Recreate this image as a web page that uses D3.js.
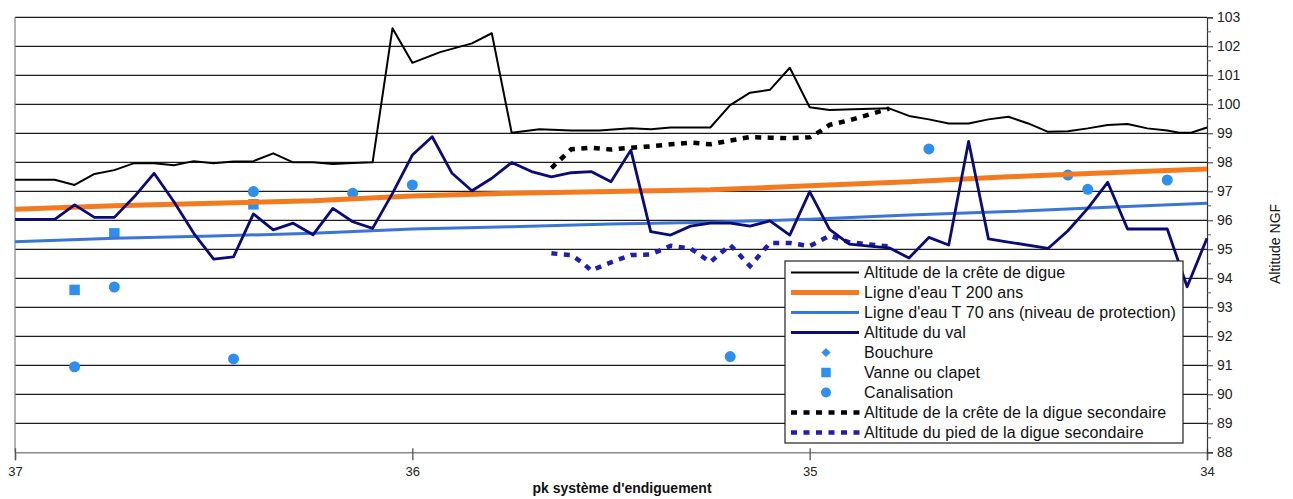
<!DOCTYPE html>
<html><head><meta charset="utf-8">
<script src="https://cdn.jsdelivr.net/npm/d3@7"></script>
<style>body{margin:0;background:#fff}svg{display:block}text{font-family:"Liberation Sans",Arial,sans-serif}</style>
</head><body><svg id="c" width="1293" height="499"></svg>
<script>
// ---- data ----
const xTicks = [37, 36, 35, 34];
const yTicks = [88,89,90,91,92,93,94,95,96,97,98,99,100,101,102,103];

const crestPk  = [37.0,36.9,36.85,36.8,36.75,36.7,36.65,36.6,36.55,36.5,36.45,36.4,36.35,36.3,36.25,36.2,36.15,36.1,36.05,36.0,35.93,35.85,35.8,35.75,35.68,35.6,35.53,35.45,35.4,35.35,35.25,35.2,35.15,35.1,35.05,35.0,34.95,34.89,34.8,34.75,34.7,34.65,34.6,34.55,34.5,34.45,34.4,34.35,34.3,34.25,34.2,34.15,34.1,34.07,34.04,34.0];
const crestVal = [97.4,97.4,97.22,97.6,97.73,97.97,97.97,97.9,98.04,97.97,98.03,98.04,98.31,98.0,98.0,97.94,97.98,98.0,102.62,101.43,101.8,102.1,102.45,99.02,99.14,99.1,99.1,99.17,99.14,99.2,99.2,99.97,100.4,100.5,101.26,99.9,99.8,99.83,99.86,99.6,99.48,99.34,99.34,99.48,99.57,99.34,99.05,99.07,99.17,99.29,99.32,99.17,99.1,99.02,99.02,99.2];

const t200Pk  = [37.0,36.75,36.5,36.25,36.0,35.75,35.5,35.25,35.0,34.75,34.5,34.25,34.0];
const t200Val = [96.38,96.5,96.59,96.67,96.84,96.93,96.99,97.05,97.19,97.33,97.5,97.64,97.77];

const t70Pk  = [37.0,36.75,36.5,36.25,36.0,35.75,35.5,35.25,35.0,34.75,34.5,34.25,34.0];
const t70Val = [95.26,95.38,95.46,95.55,95.7,95.78,95.87,95.93,96.04,96.18,96.3,96.45,96.59];

const valPk  = [37.0,36.9,36.85,36.8,36.75,36.7,36.65,36.6,36.55,36.5,36.45,36.4,36.35,36.3,36.25,36.2,36.15,36.1,36.05,36.0,35.95,35.9,35.85,35.8,35.75,35.7,35.65,35.6,35.55,35.5,35.45,35.4,35.35,35.3,35.25,35.2,35.15,35.1,35.05,35.0,34.95,34.9,34.85,34.8,34.75,34.7,34.65,34.6,34.55,34.5,34.4,34.35,34.3,34.25,34.2,34.15,34.1,34.05,34.0];
const valVal = [96.03,96.03,96.53,96.1,96.1,96.81,97.62,96.64,95.55,94.66,94.74,96.22,95.67,95.9,95.5,96.41,95.95,95.72,96.93,98.25,98.88,97.62,97.02,97.45,97.99,97.68,97.5,97.64,97.68,97.33,98.42,95.61,95.49,95.8,95.9,95.9,95.8,95.98,95.49,96.99,95.69,95.18,95.11,95.05,94.7,95.41,95.15,98.72,95.36,95.25,95.03,95.64,96.41,97.31,95.7,95.7,95.7,93.71,95.38];

const crest2Pk  = [35.65,35.6,35.55,35.5,35.45,35.4,35.35,35.3,35.25,35.2,35.15,35.1,35.05,35.0,34.97,34.95,34.9,34.85,34.8];
const crest2Val = [97.8,98.45,98.5,98.44,98.5,98.55,98.62,98.68,98.62,98.75,98.87,98.85,98.83,98.86,99.1,99.29,99.45,99.65,99.85];

const footPk  = [35.65,35.6,35.57,35.55,35.5,35.45,35.4,35.35,35.3,35.25,35.2,35.15,35.1,35.05,35.0,34.95,34.9,34.85,34.8];
const footVal = [94.86,94.8,94.52,94.27,94.55,94.8,94.82,95.12,95.03,94.56,95.15,94.42,95.22,95.22,95.11,95.47,95.24,95.17,95.1];

const vannePk  = [36.85,36.75,36.4];
const vanneVal = [93.6,95.55,96.55];

const canalPk  = [36.85,36.75,36.45,36.4,36.15,36.0,35.2,34.7,34.35,34.3,34.1];
const canalVal = [90.95,93.7,91.22,96.99,96.93,97.22,91.3,98.46,97.56,97.07,97.39];

const legendLabels = ["Altitude de la crête de digue","Ligne d'eau T 200 ans","Ligne d'eau T 70 ans (niveau de protection)","Altitude du val","Bouchure","Vanne ou clapet","Canalisation","Altitude de la crête de la digue secondaire","Altitude du pied de la digue secondaire"];

// ---- drawing ----
const svg = d3.select("#c");
const x = d3.scaleLinear().domain([37, 34]).range([15, 1207]);
const y = d3.scaleLinear().domain([88, 103]).range([452.3, 17.3]);

const C = {crest:"#000000", t200:"#F47A20", t70:"#3B76D6", val:"#0B0B78", sym:"#2F8FEF", foot:"#1E1EB0"};
const zip = (a, b) => a.map((d, i) => [d, b[i]]);
const line = d3.line().x(d => x(d[0])).y(d => y(d[1]));

// gridlines
svg.append("g").selectAll("line").data(yTicks.filter(v => v > 88)).join("line")
  .attr("x1", 15).attr("x2", 1207).attr("y1", d => y(d)).attr("y2", d => y(d))
  .attr("stroke", "#1c1c1c").attr("stroke-width", 1.3);

// left border & bottom axis
svg.append("line").attr("x1", 15).attr("x2", 15).attr("y1", y(103)).attr("y2", y(88))
  .attr("stroke", "#8a8a8a").attr("stroke-width", 1.3);

const xAxis = svg.append("g").attr("transform", `translate(0,${y(88)})`)
  .call(d3.axisBottom(x).tickValues(xTicks).tickFormat(d3.format("d")).tickSize(8).tickPadding(6));
xAxis.select(".domain").attr("stroke", "#8a8a8a").attr("stroke-width", 1.5);
xAxis.selectAll(".tick line").attr("stroke", "#555").attr("y1", -4).attr("stroke-width", 1.3);
xAxis.selectAll(".tick text").attr("font-size", 13).attr("fill", "#222").attr("font-family", "Liberation Sans, Arial");

// right axis
const yAxis = svg.append("g").attr("transform", "translate(1207,0)")
  .call(d3.axisRight(y).tickValues(yTicks).tickFormat(d3.format("d")).tickSize(6).tickPadding(4));
yAxis.select(".domain").attr("stroke", "#333").attr("stroke-width", 1.2);
yAxis.selectAll(".tick line").attr("stroke", "#333");
yAxis.selectAll(".tick text").attr("font-size", 14).attr("fill", "#222").attr("font-family", "Liberation Sans, Arial");
const minor = d3.range(88.5, 103, 1);
svg.append("g").selectAll("line").data(minor).join("line")
  .attr("x1", 1207).attr("x2", 1211).attr("y1", d => y(d)).attr("y2", d => y(d))
  .attr("stroke", "#555").attr("stroke-width", 1);

// axis titles
svg.append("text").attr("x", 622).attr("y", 493).attr("text-anchor", "middle")
  .attr("font-size", 14).attr("font-weight", "bold").attr("fill", "#111").text("pk système d'endiguement");
svg.append("text").attr("transform", "translate(1280,244) rotate(-90)").attr("text-anchor", "middle")
  .attr("font-size", 14).attr("fill", "#111").text("Altitude NGF");

// symbols (under lines)
const sq = d3.symbol().type(d3.symbolSquare).size(110);
svg.append("g").selectAll("path").data(zip(vannePk, vanneVal)).join("path")
  .attr("d", sq).attr("transform", d => `translate(${x(d[0])},${y(d[1])})`).attr("fill", C.sym);
svg.append("g").selectAll("circle").data(zip(canalPk, canalVal)).join("circle")
  .attr("cx", d => x(d[0])).attr("cy", d => y(d[1])).attr("r", 5.5).attr("fill", C.sym);

// lines
svg.append("path").datum(zip(t70Pk, t70Val)).attr("d", line).attr("fill", "none").attr("stroke", C.t70).attr("stroke-width", 3);
svg.append("path").datum(zip(t200Pk, t200Val)).attr("d", line).attr("fill", "none").attr("stroke", C.t200).attr("stroke-width", 5);
svg.append("path").datum(zip(footPk, footVal)).attr("d", line).attr("fill", "none").attr("stroke", C.foot).attr("stroke-width", 4.5).attr("stroke-dasharray", "6,6.5");
svg.append("path").datum(zip(valPk, valVal)).attr("d", line).attr("fill", "none").attr("stroke", C.val).attr("stroke-width", 2.8).attr("stroke-linejoin", "round");
svg.append("path").datum(zip(crest2Pk, crest2Val)).attr("d", line).attr("fill", "none").attr("stroke", C.crest).attr("stroke-width", 4.5).attr("stroke-dasharray", "6,6.5");
svg.append("path").datum(zip(crestPk, crestVal)).attr("d", line).attr("fill", "none").attr("stroke", C.crest).attr("stroke-width", 2).attr("stroke-linejoin", "round");

// legend
const lg = svg.append("g").attr("transform", "translate(785,261)");
lg.append("rect").attr("width", 398).attr("height", 182).attr("fill", "#fff").attr("stroke", "#222").attr("stroke-width", 1.2);
const styles = [
  {t:"line", c:C.crest, w:2}, {t:"line", c:C.t200, w:5}, {t:"line", c:C.t70, w:3}, {t:"line", c:C.val, w:3},
  {t:"diamond"}, {t:"square"}, {t:"circle"},
  {t:"dash", c:C.crest}, {t:"dash", c:C.foot}
];
legendLabels.forEach((lab, i) => {
  const cy = 11.5 + i * 20;
  const s = styles[i];
  if (s.t === "line") lg.append("line").attr("x1", 6).attr("x2", 74).attr("y1", cy).attr("y2", cy).attr("stroke", s.c).attr("stroke-width", s.w);
  else if (s.t === "dash") lg.append("line").attr("x1", 6).attr("x2", 76).attr("y1", cy).attr("y2", cy).attr("stroke", s.c).attr("stroke-width", 4.5).attr("stroke-dasharray", "6,6.5");
  else if (s.t === "diamond") lg.append("path").attr("d", d3.symbol().type(d3.symbolSquare).size(42)).attr("transform", `translate(41,${cy}) rotate(45)`).attr("fill", C.sym);
  else if (s.t === "square") lg.append("path").attr("d", d3.symbol().type(d3.symbolSquare).size(90)).attr("transform", `translate(41,${cy})`).attr("fill", C.sym);
  else lg.append("circle").attr("cx", 41).attr("cy", cy).attr("r", 5).attr("fill", C.sym);
  lg.append("text").attr("x", 79).attr("y", cy + 5.5).attr("font-size", 16).attr("letter-spacing", 0.1).attr("fill", "#111").text(lab);
});
</script></body></html>
